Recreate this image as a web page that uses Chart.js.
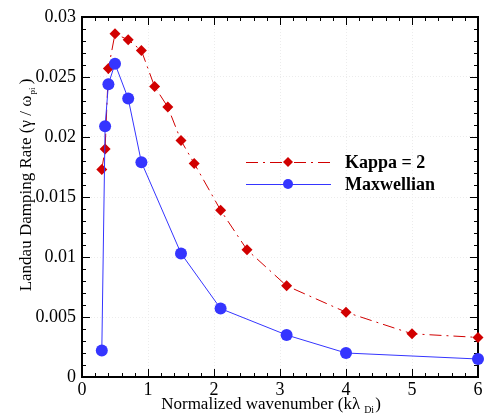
<!DOCTYPE html>
<html>
<head>
<meta charset="utf-8">
<script src="https://cdn.jsdelivr.net/npm/chart.js@4/dist/chart.umd.min.js"></script>
<style>
  html, body { margin: 0; padding: 0; background: #fff; }
  #wrap { width: 495px; height: 417px; }
</style>
</head>
<body>
<div id="wrap"><canvas id="dampChart" width="495" height="417"></canvas></div>
<script>
// Landau damping rate vs normalized wavenumber
const kappaK = [0.3, 0.35, 0.4, 0.5, 0.7, 0.9, 1.1, 1.3, 1.5, 1.7, 2.1, 2.5, 3.1, 4, 5, 6];
const kappaRate = [0.0173, 0.019, 0.0257, 0.0286, 0.0281, 0.0272, 0.0242, 0.0225, 0.0197, 0.0178, 0.0139, 0.0106, 0.0076, 0.0054, 0.0036, 0.0033];

const maxwellK = [0.3, 0.35, 0.4, 0.5, 0.7, 0.9, 1.5, 2.1, 3.1, 4, 6];
const maxwellRate = [0.0022, 0.0209, 0.0244, 0.0261, 0.0232, 0.0179, 0.0103, 0.0057, 0.0035, 0.002, 0.0015];

const xTickLabels = ['0', '1', '2', '3', '4', '5', '6'];
const yTickLabels = ['0', '0.005', '0.01', '0.015', '0.02', '0.025', '0.03'];

const seriesNames = ['Kappa = 2', 'Maxwellian'];

const RED = '#d10000';
const BLUE = '#3535ff';
const SERIF = '"Liberation Serif", "Times New Roman", serif';

const toPoints = (xs, ys) => xs.map((x, i) => ({ x: x, y: ys[i] }));

// frame + inward ticks, drawn under the data
const framePlugin = {
  id: 'frame',
  beforeDatasetsDraw(chart) {
    const { ctx, chartArea: a, scales } = chart;
    const xs = scales.x, ys = scales.y;
    ctx.save();
    ctx.strokeStyle = '#000';
    ctx.lineWidth = 1;
    ctx.beginPath();
    for (let v = 0; v <= 6.0001; v += 0.2) {
      const px = Math.round(xs.getPixelForValue(v)) + 0.5;
      const major = Math.abs(v - Math.round(v)) < 1e-6;
      const len = major ? 8 : 4;
      ctx.moveTo(px, a.bottom); ctx.lineTo(px, a.bottom - len);
      ctx.moveTo(px, a.top); ctx.lineTo(px, a.top + len);
    }
    for (let i = 0; i <= 30; i++) {
      const v = i * 0.001;
      const py = Math.round(ys.getPixelForValue(v)) + 0.5;
      const len = i % 5 === 0 ? 8 : 4;
      ctx.moveTo(a.left, py); ctx.lineTo(a.left + len, py);
      ctx.moveTo(a.right, py); ctx.lineTo(a.right - len, py);
    }
    ctx.stroke();
    ctx.lineWidth = 2;
    ctx.strokeRect(a.left, a.top, a.right - a.left, a.bottom - a.top);
    ctx.restore();
  }
};

// axis titles with subscripts and the legend box
const textPlugin = {
  id: 'texts',
  afterDraw(chart) {
    const { ctx } = chart;
    const ds = chart.data.datasets;
    ctx.save();
    ctx.fillStyle = '#000';
    ctx.textBaseline = 'alphabetic';

    // x title
    const xMain = 'Normalized wavenumber (k\u03bb';
    ctx.font = '17px ' + SERIF;
    const w1 = ctx.measureText(xMain).width;
    ctx.font = '10px ' + SERIF;
    const w2 = ctx.measureText('Di').width;
    ctx.font = '17px ' + SERIF;
    const w3 = ctx.measureText(')').width;
    let x0 = 271 - (w1 + w2 + 5 + w3) / 2;
    ctx.textAlign = 'left';
    ctx.fillText(xMain, x0, 409);
    ctx.font = '10px ' + SERIF;
    ctx.fillText('Di', x0 + w1 + 4, 413);
    ctx.font = '17px ' + SERIF;
    ctx.fillText(')', x0 + w1 + w2 + 5, 409);

    // y title (rotated)
    ctx.save();
    ctx.translate(31, 185);
    ctx.rotate(-Math.PI / 2);
    const yMain = 'Landau Damping Rate (\u03b3 / \u03c9';
    ctx.font = '17px ' + SERIF;
    const v1 = ctx.measureText(yMain).width;
    ctx.font = '9px ' + SERIF;
    const v2 = ctx.measureText('pi').width;
    ctx.font = '17px ' + SERIF;
    const v3 = ctx.measureText(' )').width;
    let y0 = -(v1 + v2 + v3) / 2;
    ctx.fillText(yMain, y0, 0);
    ctx.font = '9px ' + SERIF;
    ctx.fillText('pi', y0 + v1 + 1, 4);
    ctx.font = '17px ' + SERIF;
    ctx.fillText(' )', y0 + v1 + v2, 0);
    ctx.restore();

    // legend
    const rows = [
      { ds: ds[1], y: 162, shape: 'diamond' },
      { ds: ds[0], y: 184, shape: 'circle' }
    ];
    rows.forEach(r => {
      ctx.save();
      ctx.strokeStyle = r.ds.borderColor;
      ctx.lineWidth = 1;
      ctx.setLineDash(r.ds.borderDash || []);
      ctx.beginPath();
      ctx.moveTo(246, r.y + 0.5); ctx.lineTo(331, r.y + 0.5);
      ctx.stroke();
      ctx.setLineDash([]);
      ctx.fillStyle = r.ds.pointBackgroundColor;
      ctx.beginPath();
      if (r.shape === 'diamond') {
        ctx.moveTo(288, r.y - 5); ctx.lineTo(293, r.y); ctx.lineTo(288, r.y + 5); ctx.lineTo(283, r.y);
        ctx.closePath();
      } else {
        ctx.arc(288, r.y, 5, 0, Math.PI * 2);
      }
      ctx.fill();
      ctx.fillStyle = '#000';
      ctx.font = 'bold 18px ' + SERIF;
      ctx.textBaseline = 'middle';
      ctx.fillText(r.ds.label, 345, r.y + 1);
      ctx.restore();
    });
    ctx.restore();
  }
};

const chart = new Chart(document.getElementById('dampChart').getContext('2d'), {
  type: 'line',
  data: {
    datasets: [
      {
        label: seriesNames[1],
        data: toPoints(maxwellK, maxwellRate),
        borderColor: BLUE,
        borderWidth: 1,
        pointStyle: 'circle',
        pointRadius: 6,
        pointBackgroundColor: BLUE,
        pointBorderColor: BLUE,
        pointBorderWidth: 0,
        tension: 0,
        clip: false
      },
      {
        label: seriesNames[0],
        data: toPoints(kappaK, kappaRate),
        borderColor: RED,
        borderWidth: 1,
        borderDash: [12, 5, 2, 5],
        pointStyle: 'rectRot',
        pointRadius: 5.5,
        pointBackgroundColor: RED,
        pointBorderColor: RED,
        pointBorderWidth: 0,
        tension: 0,
        clip: false
      }
    ]
  },
  options: {
    responsive: false,
    animation: false,
    devicePixelRatio: 1,
    layout: { padding: { top: 17, right: 17, left: 0, bottom: 0 } },
    plugins: { legend: { display: false }, tooltip: { enabled: false } },
    scales: {
      x: {
        type: 'linear',
        min: 0, max: 6,
        afterFit: s => { s.height = 40; },
        afterBuildTicks: s => { s.ticks = xTickLabels.map(t => ({ value: Number(t) })); },
        ticks: {
          color: '#000',
          font: { family: SERIF, size: 18 },
          padding: 2,
          maxRotation: 0,
          callback: (v, i) => xTickLabels[i]
        },
        grid: { color: '#ececec', drawTicks: false, lineWidth: 1 },
        border: { display: false, dash: [1, 2] }
      },
      y: {
        type: 'linear',
        min: 0, max: 0.03,
        afterFit: s => { s.width = 82; },
        afterBuildTicks: s => { s.ticks = yTickLabels.map(t => ({ value: Number(t) })); },
        ticks: {
          color: '#000',
          font: { family: SERIF, size: 18 },
          padding: 6,
          callback: (v, i) => yTickLabels[i]
        },
        grid: { color: '#ececec', drawTicks: false, lineWidth: 1 },
        border: { display: false, dash: [1, 2] }
      }
    }
  },
  plugins: [framePlugin, textPlugin]
});
</script>
</body>
</html>
